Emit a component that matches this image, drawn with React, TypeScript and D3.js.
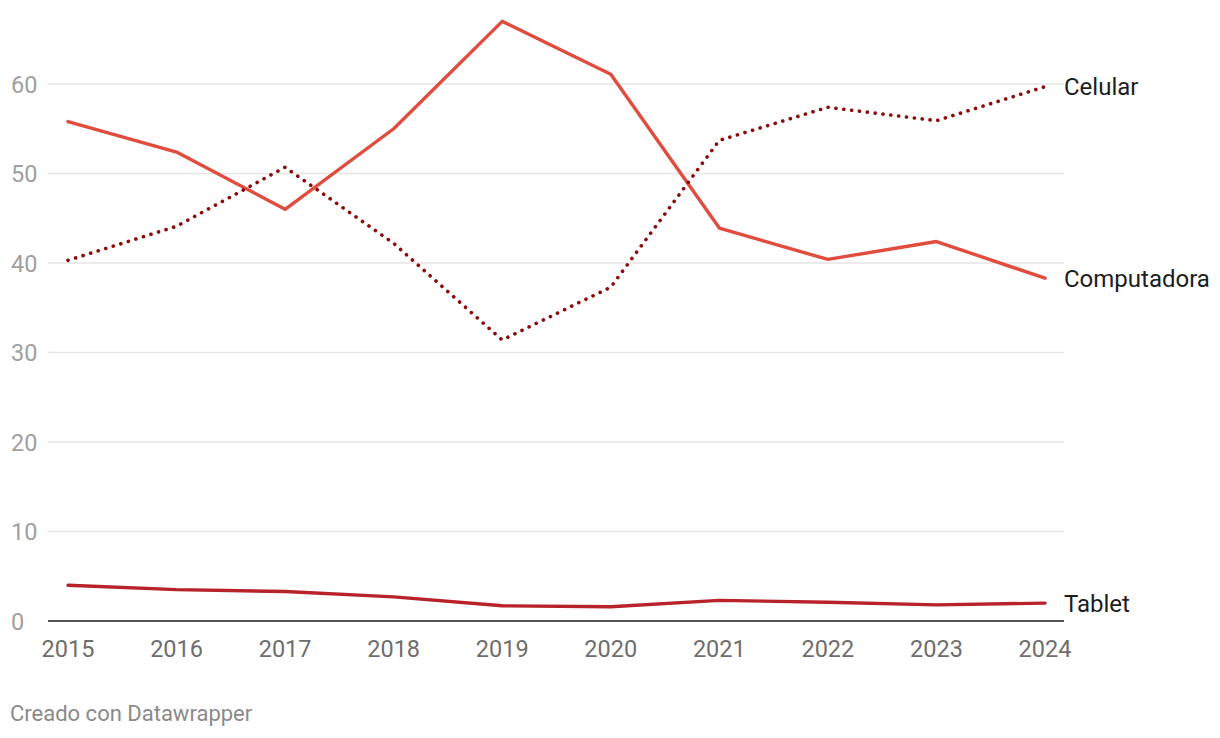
import React from 'react';
import * as d3 from 'd3';

const years = [2015, 2016, 2017, 2018, 2019, 2020, 2021, 2022, 2023, 2024];
const computadora = [55.8, 52.4, 46.0, 55.0, 67.0, 61.1, 43.9, 40.4, 42.4, 38.3];
const celular = [40.3, 44.1, 50.7, 42.2, 31.4, 37.3, 53.7, 57.4, 55.9, 59.7];
const tablet = [4.0, 3.5, 3.3, 2.7, 1.7, 1.6, 2.3, 2.1, 1.8, 2.0];
const yTicks = [0, 10, 20, 30, 40, 50, 60];

const series = [
  { name: 'Computadora', values: computadora, color: '#e04c3e', dash: null },
  { name: 'Celular', values: celular, color: '#8b0a0a', dash: '0.1 7.8' },
  { name: 'Tablet', values: tablet, color: '#b8232a', dash: null },
];

const App = () => {
  const width = 1220;
  const height = 738;
  const left = 48;
  const right = 1064;

  const x = d3.scaleLinear().domain([2015, 2024]).range([68, 1045]);
  const y = d3.scaleLinear().domain([0, 60]).range([621, 84]);

  const line = d3.line<number>()
    .x((d, i) => x(years[i]))
    .y(d => y(d));

  const font = 'Roboto, "Noto Sans", sans-serif';

  return (
    <svg width={width} height={height} style={{ position: 'absolute', left: 0, top: 0 }}>
      <rect width={width} height={height} fill="#fff" />
      {/* rejilla */}
      {yTicks.filter(t => t > 0).map(t => (
        <line key={t} x1={left} x2={right} y1={y(t)} y2={y(t)} stroke="#e5e5e5" strokeWidth={1.5} />
      ))}
      {yTicks.map(t => (
        <text key={t} x={11} y={y(t) + 8.5} fontSize={23.5} fill="#a0a0a0" fontFamily={font}>{t}</text>
      ))}
      <line x1={left} x2={right} y1={y(0)} y2={y(0)} stroke="#1a1a1a" strokeWidth={1.6} />
      {years.map(yr => (
        <text key={yr} x={x(yr)} y={656.5} fontSize={23.5} fill="#6e6e6e" textAnchor="middle" fontFamily={font}>{yr}</text>
      ))}
      {series.map(s => (
        <path
          key={s.name}
          d={line(s.values) || ''}
          fill="none"
          stroke={s.color}
          strokeWidth={s.dash ? 3.6 : 3.4}
          strokeLinecap="round"
          strokeLinejoin="round"
          strokeDasharray={s.dash || undefined}
        />
      ))}
      {series.map(s => (
        <text key={s.name} x={1064} y={y(s.values[s.values.length - 1]) + 8.5} fontSize={24} fill="#1d1d1d" fontFamily={font}>{s.name}</text>
      ))}
      <text x={10} y={721} fontSize={22} fill="#8a8a8a" fontFamily={font}>Creado con Datawrapper</text>
    </svg>
  );
};

export default App;
